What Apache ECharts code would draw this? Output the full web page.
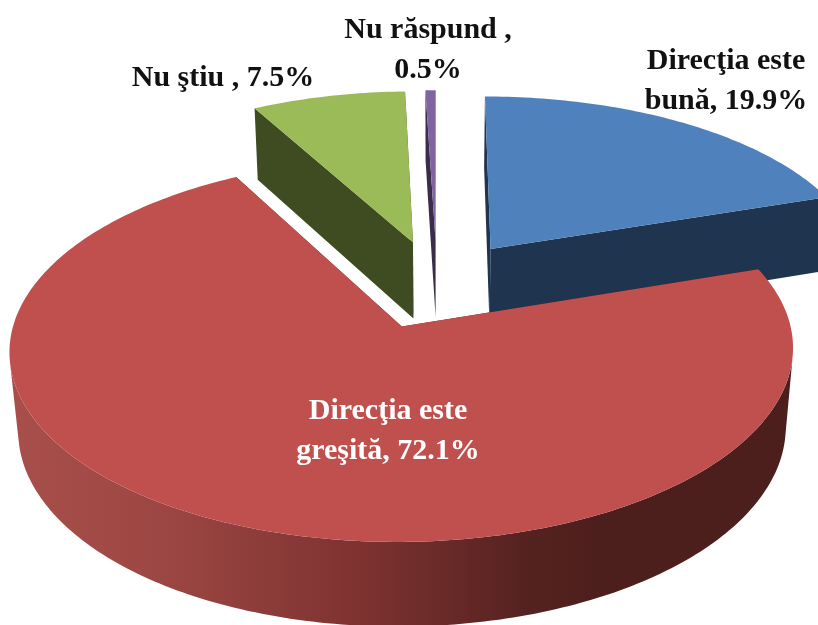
<!DOCTYPE html>
<html>
<head>
<meta charset="utf-8">
<style>html,body{margin:0;padding:0;background:#fff}#c{width:818px;height:625px}</style>
<script src="https://cdn.jsdelivr.net/npm/echarts@6/dist/echarts.min.js"></script>
</head>
<body>
<div id="c"></div>
<script>
// Data, clockwise from twelve o'clock
const categories = ['Direcţia este bună', 'Direcţia este greşită', 'Nu ştiu', 'Nu răspund'];
const shares = [19.9, 72.1, 7.5, 0.5];
const labelTexts = ['Direcţia este\nbună, 19.9%', 'Direcţia este\ngreşită, 72.1%', 'Nu ştiu , 7.5%', 'Nu răspund ,\n0.5%'];

// Styles
const topColors = ['#4f81bd', '#c0504d', '#9bbb59', '#8064a2'];
const wallColors = ['#1f344f', '#4d1f1c', '#3f4b20', '#3a2d4c'];
const labelColors = ['#111111', '#ffffff', '#111111', '#111111'];
const labelAnchors = [[726, 81], [388, 431], [223, 78], [428, 50]];

// Projection of the tilted 3D pie
const view = { x0: 437, y0: 284, f: 378, g: 178.6, k: 0.12, drop: 79, shrink: 0.02, explode: 0.248 };
function project(X, Z, H) {
  const den = 1 - view.k * Z + view.shrink * H;
  return [view.x0 + view.f * X / den, view.y0 + (view.g * Z + view.drop * H) / den];
}
const total = shares.reduce((a, b) => a + b, 0);
let running = 0;
const spans = shares.map(v => { const s = running; running += v; return [s / total * 360, running / total * 360]; });
const rad = d => d * Math.PI / 180;

function renderSlice(params, api) {
  const i = api.value(1);
  const [a0, a1] = spans[i];
  const mid = rad((a0 + a1) / 2);
  const cX = Math.sin(mid) * view.explode, cZ = -Math.cos(mid) * view.explode;
  const rim = (a, H) => project(cX + Math.sin(rad(a)), cZ - Math.cos(rad(a)), H);
  const steps = Math.max(2, Math.ceil(a1 - a0));
  const angles = [];
  for (let s = 0; s <= steps; s++) angles.push(a0 + (a1 - a0) * s / steps);
  const apexTop = project(cX, cZ, 0), apexBot = project(cX, cZ, 1);
  const isRed = i === 1;
  const wallFill = isRed ? {
    type: 'linear', x: 0, y: 0, x2: 1, y2: 0,
    colorStops: [
      { offset: 0, color: '#a84f4b' }, { offset: 0.2, color: '#9c4643' },
      { offset: 0.45, color: '#7d3230' }, { offset: 0.66, color: '#552220' },
      { offset: 0.75, color: '#4d1f1c' }, { offset: 1, color: '#4d1f1c' }
    ]
  } : wallColors[i];
  const poly = (points, fill) => ({ type: 'polygon', shape: { points }, style: { fill } });

  // Keep only the rim stretches that face the viewer, so the silhouette is clean
  const faces = (a, b) => {
    const p = rim(a, 0), q = rim(b, 0), r = rim(b, 1);
    return (q[0] - p[0]) * (r[1] - q[1]) - (q[1] - p[1]) * (r[0] - q[0]) < 0;
  };
  const rimWalls = [];
  let run = null;
  for (let s = 0; s < steps; s++) {
    if (faces(angles[s], angles[s + 1])) {
      if (!run) run = [angles[s]];
      run.push(angles[s + 1]);
    } else if (run) { rimWalls.push(run); run = null; }
  }
  if (run) rimWalls.push(run);

  const children = [
    poly([rim(a0, 0), rim(a0, 1), apexBot, apexTop], wallColors[i]),
    poly([rim(a1, 0), rim(a1, 1), apexBot, apexTop], wallColors[i])
  ].concat(
    rimWalls.map(r => poly(r.map(a => rim(a, 0)).concat(r.slice().reverse().map(a => rim(a, 1))), wallFill))
  ).concat([
    poly([apexTop].concat(angles.map(a => rim(a, 0))), topColors[i]),
    {
      type: 'text',
      style: {
        text: labelTexts[i], x: labelAnchors[i][0], y: labelAnchors[i][1],
        fill: labelColors[i], font: 'bold 30px "Liberation Serif", serif',
        align: 'center', verticalAlign: 'middle', lineHeight: 40
      }
    }
  ]);
  return { type: 'group', children };
}

// Painter's order: slices farthest from the viewer are drawn first
const order = shares.map((v, i) => i).sort((p, q) => {
  const z = j => -Math.cos(rad((spans[j][0] + spans[j][1]) / 2));
  return z(p) - z(q);
});

const chart = echarts.init(document.getElementById('c'), null, { renderer: 'canvas' });
chart.setOption({
  backgroundColor: '#ffffff',
  animation: false,
  series: [{
    type: 'custom',
    coordinateSystem: 'none',
    silent: true,
    renderItem: renderSlice,
    data: order.map(i => ({ name: categories[i], value: [shares[i], i] }))
  }]
});
</script>
</body>
</html>
